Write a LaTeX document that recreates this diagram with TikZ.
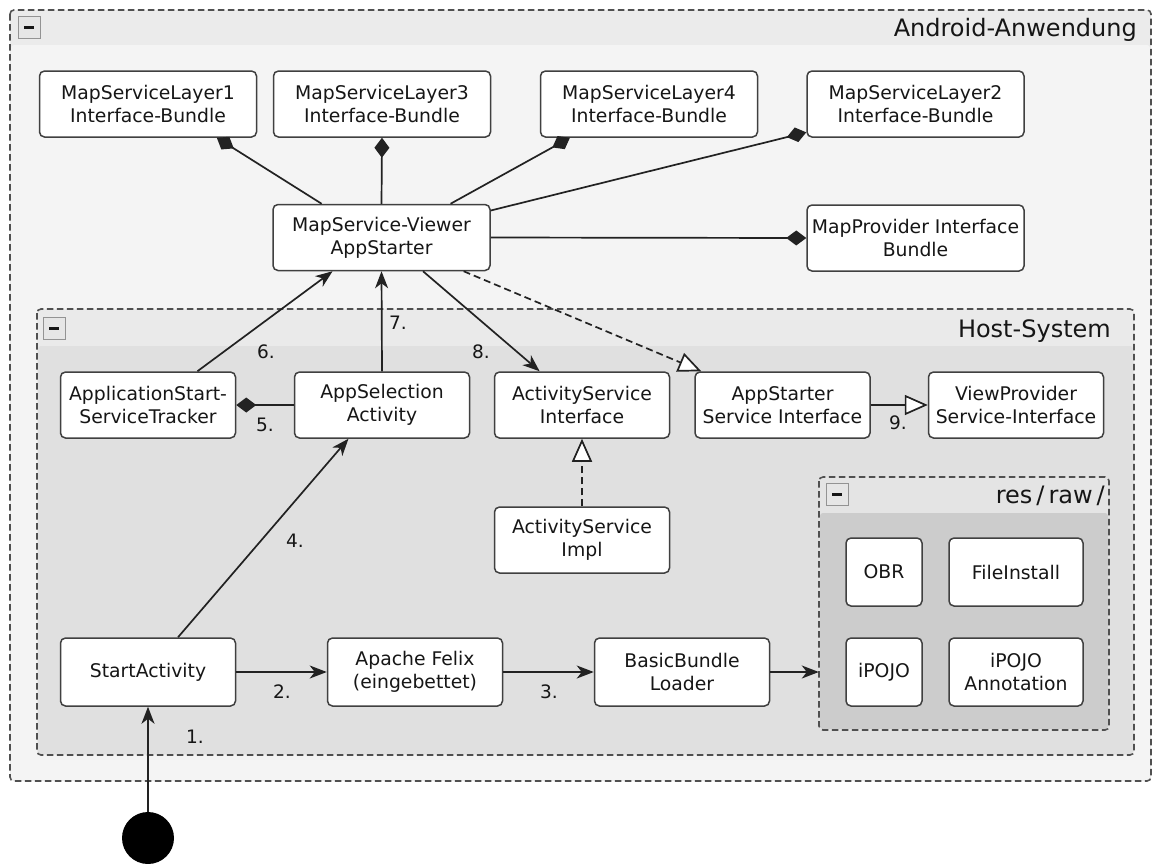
\documentclass[tikz,border=0pt]{standalone}
\usepackage{fontspec}
\setmainfont{DejaVu Sans}
\usetikzlibrary{arrows.meta,calc}

\definecolor{txt}{HTML}{161616}
\definecolor{boxline}{HTML}{404040}
\definecolor{lineC}{HTML}{222222}
\definecolor{framecol}{HTML}{505050}
\definecolor{outerhead}{HTML}{EBEBEB}
\definecolor{outerbody}{HTML}{F4F4F4}
\definecolor{hosthead}{HTML}{EAEAEA}
\definecolor{hostbody}{HTML}{E0E0E0}
\definecolor{reshead}{HTML}{E4E4E4}
\definecolor{resbody}{HTML}{CCCCCC}
\definecolor{minusfill}{HTML}{E6E6E6}

\newcommand\bxfont{\fontsize{18.8}{23}\selectfont}
\newcommand\lblfont{\fontsize{18.5}{20}\selectfont}
\newcommand\ttlfont{\fontsize{24}{28}\selectfont}

\begin{document}
\begin{tikzpicture}[x=1pt,y=-1pt,
  box/.style={draw=boxline, line width=1.5pt, rounded corners=5pt, fill=white,
    align=center, inner sep=0pt, font=\bxfont, text=txt},
  wide/.style={box, minimum width=217pt, minimum height=66pt},
  mid/.style={box, minimum width=175pt, minimum height=66pt},
  res/.style={box, minimum height=68pt},
  frame/.style={draw=framecol, line width=1.6pt, dash pattern=on 6.5pt off 3.5pt, rounded corners=4pt},
  minusbox/.style={draw=gray!85, fill=minusfill, line width=1pt, minimum size=22pt, inner sep=0pt,
    path picture={\draw[line width=3pt, txt]
      ($(path picture bounding box.center)+(-5pt,0)$) -- ++(10pt,0);}},
  ttl/.style={font=\ttlfont, text=txt, anchor=base east, inner sep=0pt},
  lab/.style={font=\lblfont, text=txt, inner sep=0pt},
  conn/.style={draw=lineC, line width=1.7pt},
  arr/.style={conn, -{Stealth[length=17pt,width=13pt,inset=5pt]}},
  agg/.style={conn, -{Diamond[length=20pt,width=15pt]}},
  real/.style={conn, -{Triangle[length=23pt,width=20pt,fill=white]}},
  realdash/.style={real, dash pattern=on 7pt off 4pt}]

\useasboundingbox (0,0) rectangle (1157,863);
\fill[white] (0,0) rectangle (1157,863);

% ---------- package frames ----------
% Android-Anwendung
\fill[outerhead, rounded corners=4pt] (10,10) rectangle (1151,781);
\fill[outerbody, rounded corners=3pt] (11,45) rectangle (1150,780);
\draw[frame] (10,10) rectangle (1151,781);
\node[minusbox] (minusA) at (29,27) {};
\node[ttl] (titleA) at (1137,36) {Android-Anwendung};

% Host-System
\fill[hosthead, rounded corners=4pt] (37,309) rectangle (1134,755);
\fill[hostbody, rounded corners=3pt] (38,346) rectangle (1133,754);
\draw[frame] (37,309) rectangle (1134,755);
\node[minusbox] (minusH) at (54,328) {};
\node[ttl] (titleH) at (1111,337) {Host-System};

% res/raw/
\fill[reshead, rounded corners=4pt] (819,477) rectangle (1109,730);
\fill[resbody, rounded corners=3pt] (820,513) rectangle (1108,729);
\draw[frame] (819,477) rectangle (1109,730);
\node (resframe) [minimum width=290pt, minimum height=253pt, inner sep=0pt] at (964,603.5) {};
\node[minusbox] (minusR) at (837,494) {};
\node[ttl] (titleR) at (1105,503) {res\,/\,raw\,/};

% ---------- components ----------
\node[wide] (msl1) at (148,104) {MapServiceLayer1\\Interface-Bundle};
\node[wide] (msl3) at (382,104) {MapServiceLayer3\\Interface-Bundle};
\node[wide] (msl4) at (649,104) {MapServiceLayer4\\Interface-Bundle};
\node[wide] (msl2) at (915.5,104) {MapServiceLayer2\\Interface-Bundle};
\node[wide] (appstarter) at (381.5,237.5) {MapService-Viewer\\AppStarter};
\node[wide] (mapprov) at (915.5,238) {MapProvider Interface\\Bundle};

\node[mid] (tracker) at (148,405) {ApplicationStart-\\ServiceTracker};
\node[mid] (appsel) at (382,405) {AppSelection\\Activity};
\node[mid] (asi) at (582,405) {ActivityService\\Interface};
\node[mid] (assi) at (782.5,405) {AppStarter\\Service Interface};
\node[mid] (viewprov) at (1016,405) {ViewProvider\\Service-Interface};
\node[mid] (impl) at (582,540) {ActivityService\\Impl};

\node[mid, minimum height=68pt] (start) at (148,672) {StartActivity};
\node[mid, minimum height=68pt] (felix) at (415,672) {Apache Felix\\(eingebettet)};
\node[mid, minimum height=68pt] (loader) at (682,672) {BasicBundle\\Loader};

\node[res, minimum width=76pt] (obr) at (884,572) {OBR};
\node[res, minimum width=134pt] (fileinst) at (1016,572) {FileInstall};
\node[res, minimum width=76pt] (ipojo) at (884,672) {iPOJO};
\node[res, minimum width=134pt] (ipojoann) at (1016,672) {iPOJO\\Annotation};

\node[circle, fill=black, minimum size=52pt, inner sep=0pt] (init) at (148,838) {};

% ---------- connectors ----------
% bundles aggregated by the AppStarter
\draw[agg] ($(appstarter.north west)!0.226!(appstarter.north east)$) -- ($(msl1.south west)!0.815!(msl1.south east)$);
\draw[agg] (appstarter.north) -- (msl3.south);
\draw[agg] ($(appstarter.north west)!0.816!(appstarter.north east)$) -- ($(msl4.south west)!0.138!(msl4.south east)$);
\draw[agg] ($(appstarter.north east)!0.1!(appstarter.south east)$) -- ($(msl2.south west)!0.08!(msl2.north west)$);
\draw[agg] (appstarter.east) -- (mapprov.west);

% start-up sequence
\draw[arr] (init) -- (start.south);
\draw[arr] (start.east) -- (felix.west);
\draw[arr] (felix.east) -- (loader.west);
\draw[arr] (loader.east) -- (resframe.west |- loader.east);
\draw[arr] ($(start.north west)!0.67!(start.north east)$) -- ($(appsel.south west)!0.31!(appsel.south east)$);
\draw[agg] (appsel.west) -- (tracker.east);
\draw[arr] ($(tracker.north west)!0.78!(tracker.north east)$) -- ($(appstarter.south west)!0.276!(appstarter.south east)$);
\draw[arr] (appsel.north) -- (appstarter.south);
\draw[arr] ($(appstarter.south west)!0.69!(appstarter.south east)$) -- ($(asi.north west)!0.26!(asi.north east)$);

% interface realisations
\draw[realdash] ($(appstarter.south west)!0.876!(appstarter.south east)$) -- ($(assi.north west)!0.04!(assi.north east)$);
\draw[real] (assi.east) -- (viewprov.west);
\draw[realdash] (impl.north) -- (asi.south);

% step numbers
\node[lab] (s1) at (195,737) {1.};
\node[lab] (s2) at (282,692) {2.};
\node[lab] (s3) at (549,692) {3.};
\node[lab] (s4) at (295,541) {4.};
\node[lab] (s5) at (265,425) {5.};
\node[lab] (s6) at (266,352) {6.};
\node[lab] (s7) at (398,323) {7.};
\node[lab] (s8) at (481,352) {8.};
\node[lab] (s9) at (898,423) {9.};
\end{tikzpicture}
\end{document}
